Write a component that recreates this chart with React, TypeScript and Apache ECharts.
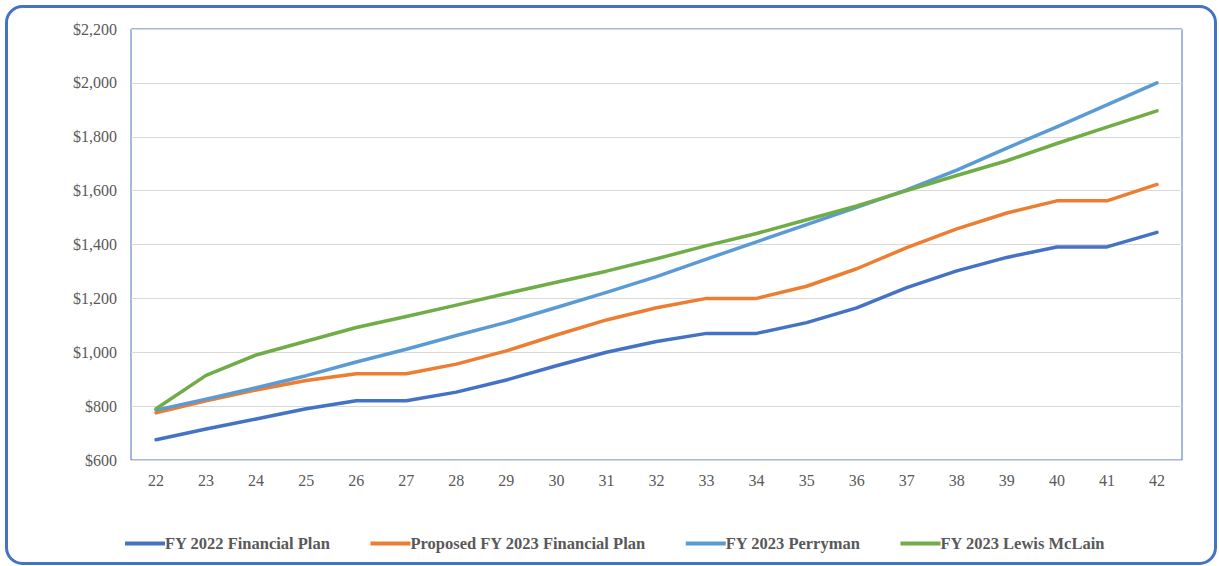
import React, { useEffect, useRef } from "react";
import * as echarts from "echarts";

const years = ["22","23","24","25","26","27","28","29","30","31","32","33","34","35","36","37","38","39","40","41","42"];
const fy2022Plan = [675,715,752,790,820,820,852,897,950,1000,1040,1070,1070,1110,1165,1240,1302,1352,1391,1391,1445];
const proposedFy2023 = [775,820,860,895,920,920,956,1005,1064,1120,1165,1200,1200,1245,1310,1388,1458,1517,1562,1562,1623];
const perryman = [785,826,868,913,964,1011,1062,1111,1166,1222,1281,1346,1410,1474,1538,1603,1676,1758,1837,1918,2000];
const lewisMcLain = [790,914,990,1041,1092,1133,1175,1218,1260,1301,1347,1396,1441,1492,1543,1600,1656,1711,1775,1836,1896];

const seriesNames = ["FY 2022 Financial Plan","Proposed FY 2023 Financial Plan","FY 2023 Perryman","FY 2023 Lewis McLain"];
const seriesColors = ["#4472C4","#ED7D31","#5B9BD5","#70AD47"];

const SERIF = "Liberation Serif";

export default function App() {
  const ref = useRef<HTMLDivElement>(null);
  useEffect(() => {
    if (!ref.current) return;
    const chart = echarts.init(ref.current, null, { renderer: "svg" });
    const data = [fy2022Plan, proposedFy2023, perryman, lewisMcLain];
    chart.setOption({
      animation: false,
      backgroundColor: "#ffffff",
      textStyle: { fontFamily: SERIF },
      graphic: [
        {
          type: "rect",
          shape: { x: 6.5, y: 6.5, width: 1209, height: 557, r: 16 },
          style: { fill: "none", stroke: "#4472C4", lineWidth: 3 },
          z: 100,
        },
      ],
      grid: {
        left: 131, right: 37, top: 29, bottom: 106,
        show: true, borderColor: "#4472C4", borderWidth: 1,
      },
      legend: {
        bottom: 9,
        left: 120,
        itemWidth: 40,
        itemHeight: 4,
        itemGap: 40,
        icon: "rect",
        textStyle: { fontFamily: SERIF, fontWeight: "bold", fontSize: 16.5, color: "#595959", padding: [0, 0, 0, -5] },
        data: seriesNames,
      },
      xAxis: {
        type: "category",
        data: years,
        boundaryGap: true,
        axisLine: { lineStyle: { color: "#D9D9D9", width: 1 } },
        axisTick: { show: false },
        axisLabel: { fontFamily: SERIF, fontSize: 16, color: "#595959", margin: 12 },
      },
      yAxis: {
        type: "value",
        min: 600, max: 2200, interval: 200,
        axisLine: { show: false },
        axisTick: { show: false },
        splitLine: { lineStyle: { color: "#D9D9D9", width: 1 } },
        axisLabel: {
          fontFamily: SERIF, fontSize: 16, color: "#595959", margin: 14,
          formatter: (v: number) => "$" + v.toLocaleString("en-US"),
        },
      },
      series: data.map((d, i) => ({
        name: seriesNames[i],
        type: "line",
        data: d,
        symbol: "none",
        itemStyle: { color: seriesColors[i] },
        lineStyle: { color: seriesColors[i], width: 3.5, cap: "round", join: "round" },
      })),
    });
    return () => chart.dispose();
  }, []);
  return (
    <div
      ref={ref}
      style={{ position: "fixed", left: 0, top: 0, width: 1219, height: 566 }}
    />
  );
}
